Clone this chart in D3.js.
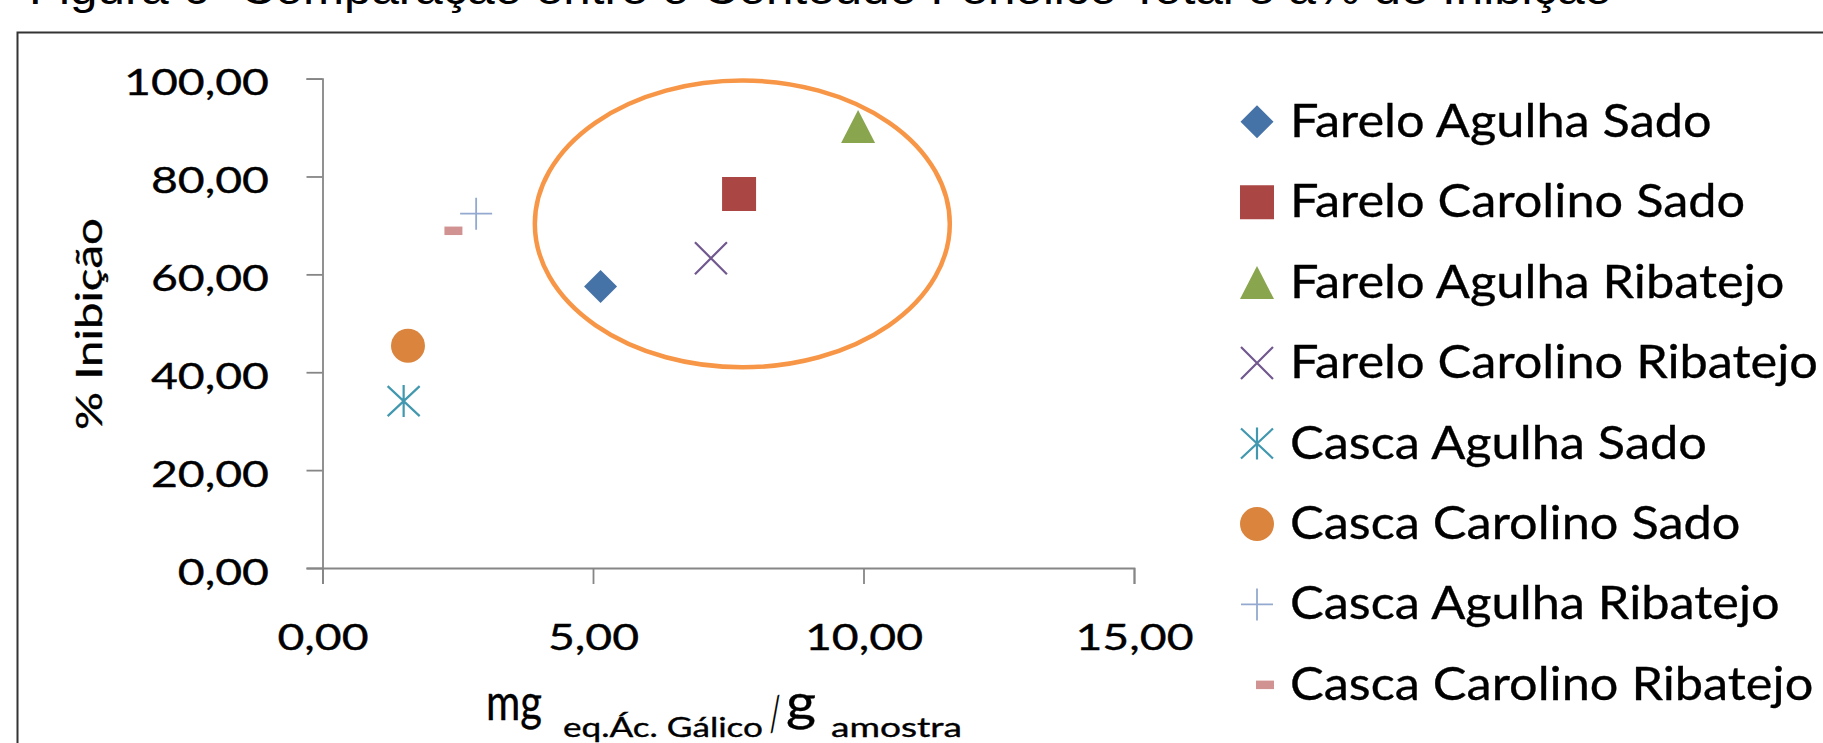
<!DOCTYPE html>
<html><head><meta charset="utf-8">
<script src="https://cdn.jsdelivr.net/npm/d3@7"></script>
<style>body{margin:0;background:#fff;overflow:hidden} svg{display:block}</style>
</head><body>
<svg id="c" width="1823" height="743"></svg>
<script>
// ---- data ----
const seriesNames = ["Farelo Agulha Sado","Farelo Carolino Sado","Farelo Agulha Ribatejo","Farelo Carolino Ribatejo","Casca Agulha Sado","Casca Carolino Sado","Casca Agulha Ribatejo","Casca Carolino Ribatejo"];
const xValues = [5.14, 7.70, 9.90, 7.18, 1.50, 1.58, 2.84, 2.42];
const yValues = [57.5, 76.4, 90.2, 63.3, 34.1, 45.4, 72.4, 68.9];
const markerTypes = ["diamond","square","triangle","x","star","circle","plus","dash"];
const seriesColors = ["#4572A7","#AA4643","#89A54E","#71588F","#4198AF","#DB843D","#93A9CF","#D19392"];
const xTicks = [0, 5, 10, 15];
const yTicks = [0, 20, 40, 60, 80, 100];
const highlightCenter = [7.76, 70.3];
const highlightRadii = [3.835, 29.3];
const titleText = "Figura 6- Comparação entre o Conteúdo Fenólico Total e a% de Inibição";
const yTitle = "% Inibição";
const xTitleParts = ["mg", "eq.Ác. Gálico", "/", "g", "amostra"];

// ---- layout ----
const svg = d3.select("#c");
const FONT = "Lato, 'Open Sans', sans-serif";
const x = d3.scaleLinear().domain([0, 15]).range([322.5, 1134]);
const y = d3.scaleLinear().domain([0, 100]).range([568, 78.6]);
const fmt = d3.formatLocale({decimal: ",", thousands: ".", grouping: [3], currency: ["", ""]}).format(".2f");

function fitWidth(sel, target) {
  sel.attr("textLength", target).attr("lengthAdjust", "spacingAndGlyphs");
}
function scaleWidth(sel, k) {
  sel.each(function () {
    const w = this.getComputedTextLength();
    d3.select(this).attr("textLength", w * k).attr("lengthAdjust", "spacingAndGlyphs");
  });
}
function heavy(sel) { sel.attr("stroke", "#000").attr("stroke-width", 0.35); }

// title (cut at top)
svg.append("text").attr("x", 29).attr("y", 4)
  .style("font-family", "'Liberation Sans', Arial, sans-serif").style("font-size", "45px").attr("fill", "#000")
  .text(titleText).call(fitWidth, 1583);

// frame
svg.append("rect").attr("x", 17.5).attr("y", 32.5).attr("width", 2000).attr("height", 1000)
  .attr("fill", "none").attr("stroke", "#333").attr("stroke-width", 2);

// axes
const axisColor = "#868686";
const gy = svg.append("g").attr("transform", `translate(${x(0)},0)`)
  .call(d3.axisLeft(y).tickValues(yTicks).tickSize(16).tickSizeOuter(16).tickPadding(37.5).tickFormat(fmt));
const gx = svg.append("g").attr("transform", `translate(0,${y(0)})`)
  .call(d3.axisBottom(x).tickValues(xTicks).tickSize(16).tickSizeOuter(16).tickFormat(fmt));
[gy, gx].forEach(g => {
  g.select(".domain").attr("stroke", axisColor).attr("stroke-width", 1.8);
  g.selectAll(".tick line").attr("stroke", axisColor).attr("stroke-width", 1.8);
  g.selectAll("text").style("font-family", FONT).style("font-size", "36px").attr("fill", "#000").call(heavy);
});
gy.selectAll("text").attr("dy", 16);
gx.selectAll("text").attr("y", 82).attr("dy", 0);
const tmp = gy.selectAll(".tick text").filter(d => d === 100).node();
const kTick = 145 / tmp.getComputedTextLength();
gy.selectAll(".tick text").call(scaleWidth, kTick);
gx.selectAll(".tick text").call(scaleWidth, kTick);

// y title
svg.append("text").attr("transform", "translate(102,324) rotate(-90)")
  .attr("text-anchor", "middle").style("font-family", FONT).style("font-size", "36px")
  .text(yTitle).call(fitWidth, 212).call(heavy);

// x title: "mg eq.Ác. Gálico / g amostra" with subscripts
const xt = svg.append("g").style("font-family", FONT).attr("fill", "#000");
const partLayout = [
  {x: 486, y: 720, size: 50, w: 56},
  {x: 563, y: 737, size: 26, w: 200},
  {x: 770, y: 731, size: 48, w: 10},
  {x: 786, y: 720, size: 50, w: 30},
  {x: 831, y: 737, size: 26, w: 131}
];
xTitleParts.forEach((s, i) => {
  const L = partLayout[i];
  xt.append("text").attr("x", L.x).attr("y", L.y).style("font-size", L.size + "px")
    .text(s).call(fitWidth, L.w).call(heavy);
});

// marker shapes
function markerPath(t) {
  switch (t) {
    case "diamond": return "M0,-16.5L16.5,0L0,16.5L-16.5,0Z";
    case "square": return "M-17,-17H17V17H-17Z";
    case "triangle": return "M0,-16.5L17,16.5L-17,16.5Z";
    case "x": return "M-16,-16L16,16M16,-16L-16,16";
    case "star": return "M-16,-15L16,15M16,-15L-16,15M0,-16V16";
    case "circle": return "M17,0A17,17 0 1,1 -17,0A17,17 0 1,1 17,0Z";
    case "plus": return "M-16,0H16M0,-16V16";
    case "dash": return "M-9,-4.25H9V4.25H-9Z";
  }
}
const lineTypes = new Set(["x", "star", "plus"]);
function drawMarker(g, i) {
  const t = markerTypes[i], c = seriesColors[i];
  const p = g.append("path").attr("d", markerPath(t));
  if (lineTypes.has(t)) p.attr("fill", "none").attr("stroke", c).attr("stroke-width", t === "plus" ? 1.8 : 2.2);
  else p.attr("fill", c);
}

// highlight ellipse
svg.append("ellipse")
  .attr("cx", x(highlightCenter[0])).attr("cy", y(highlightCenter[1]))
  .attr("rx", x(highlightRadii[0]) - x(0)).attr("ry", y(0) - y(highlightRadii[1]))
  .attr("fill", "none").attr("stroke", "#F79646").attr("stroke-width", 4.5);

// points
const pts = svg.append("g");
seriesNames.forEach((n, i) => {
  const g = pts.append("g").attr("transform", `translate(${x(xValues[i])},${y(yValues[i])})`);
  drawMarker(g, i);
});

// legend
const leg = svg.append("g");
const legTexts = [];
seriesNames.forEach((n, i) => {
  const cy = 121.7 + i * 80.45;
  const g = leg.append("g").attr("transform", `translate(${markerTypes[i] === "dash" ? 1265 : 1257},${cy})`);
  drawMarker(g, i);
  legTexts.push(leg.append("text").attr("x", 1290).attr("y", cy + 15)
    .style("font-family", FONT).style("font-size", "47px").attr("fill", "#000").text(n).call(heavy));
});
const kLeg = 528 / legTexts[3].node().getComputedTextLength();
legTexts.forEach(t => t.call(scaleWidth, kLeg));
</script>
</body></html>
